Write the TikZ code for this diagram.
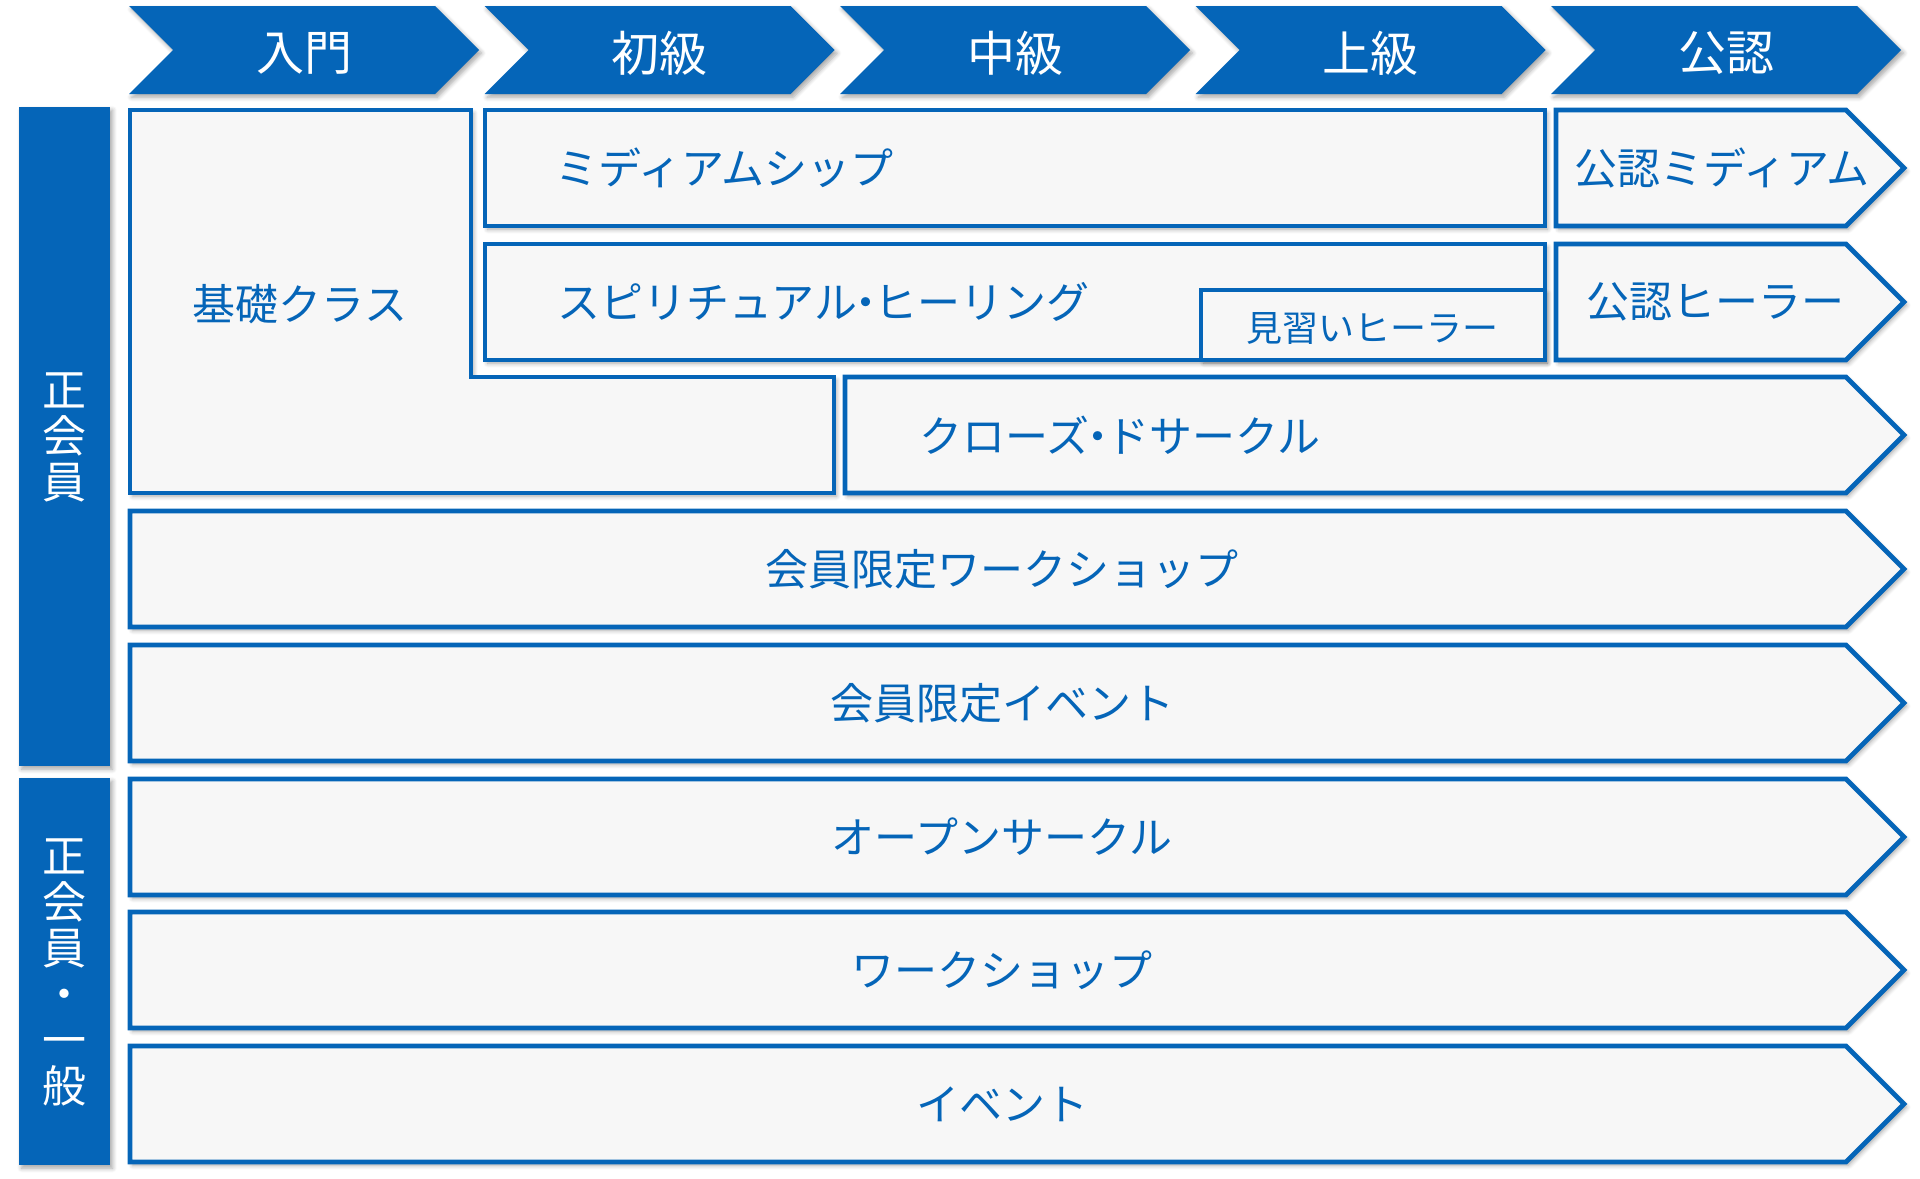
\documentclass[tikz,border=0pt]{standalone}
\usepackage{fontspec}
\setmainfont{Noto Sans CJK JP}
\usetikzlibrary{shadows.blur}

\definecolor{mblue}{RGB}{5,101,184}
\definecolor{mpaper}{RGB}{247,247,247}

% narrow middle dot
\newcommand{\nkdot}{\hspace{-0.3em}・\hspace{-0.3em}}

\tikzset{
  softshadow/.style={blur shadow={shadow xshift=1.3pt, shadow yshift=-1.6pt, shadow blur steps=6, shadow opacity=35}},
  plate/.style={draw=mblue, line width=2.4pt, fill=mpaper, line join=miter, softshadow},
  lab/.style={text=mblue, inner sep=0pt, font=\fontsize{21.5}{24}\selectfont},
  headlab/.style={text=white, inner sep=0pt, font=\fontsize{24}{26}\selectfont},
  sidelab/.style={text=white, inner sep=0pt, align=center, font=\fontsize{22}{23}\selectfont}
}

\begin{document}
\begin{tikzpicture}[x=0.5pt, y=-0.5pt]
    \useasboundingbox (0,0) rectangle (1920,1178);

    % Level chevrons
    \foreach \i/\txt/\nm in {0/入門/lv0, 1/初級/lv1, 2/中級/lv2, 3/上級/lv3, 4/公認/lv4} {
        \pgfmathsetmacro\hx{129+355.5*\i}
        \fill[mblue, softshadow] (\hx,6) -- ++(306,0) -- ++(44,44) -- ++(-44,44) -- ++(-306,0) -- ++(44,-44) -- cycle;
        \node[headlab] (\nm) at (\hx+175,53) {\txt};
    }

    % Member groups
    \fill[mblue, softshadow] (19,107) rectangle (110,766);
    \node[sidelab] (regular) at (64,437) {正\\会\\員};
    \fill[mblue, softshadow] (19,778) rectangle (110,1165);
    \node[sidelab] (general) at (64,972) {正\\会\\員\\・\\一\\般};

    % Basic class (stepped box)
    \draw[plate] (130,110) -- (471,110) -- (471,377) -- (834,377) -- (834,493) -- (130,493) -- cycle;
    \node[lab] (kiso) at (300,304) {基礎クラス};

    % Mediumship / healing courses
    \draw[plate] (485,110) rectangle (1545,226);
    \node[lab, anchor=west] (medium) at (555,168) {ミディアムシップ};
    \draw[plate] (485,244) rectangle (1545,360);
    \node[lab, anchor=west] (healing) at (557,302) {スピリチュアル\nkdot ヒーリング};
    \draw[plate] (1201,290) rectangle (1545,360);
    \node[lab, font=\fontsize{18}{20}\selectfont] (trainee) at (1372,328) {見習いヒーラー};

    % Certification
    \draw[plate] (1556,110) -- (1846,110) -- (1904,168) -- (1846,226) -- (1556,226) -- cycle;
    \node[lab] (certmedium) at (1722,168) {公認ミディアム};
    \draw[plate] (1556,244) -- (1846,244) -- (1904,302) -- (1846,360) -- (1556,360) -- cycle;
    \node[lab] (certhealer) at (1715,302) {公認ヒーラー};

    % Closed circle
    \draw[plate] (845,377) -- (1846,377) -- (1904,435) -- (1846,493) -- (845,493) -- cycle;
    \node[lab] (closed) at (1120,435) {クローズ\nkdot ドサークル};

    % Full-width programmes
    \foreach \t/\txt/\nm in {511/会員限定ワークショップ/memws, 645/会員限定イベント/memev, 779/オープンサークル/open, 912/ワークショップ/ws, 1046/イベント/ev} {
        \draw[plate] (130,\t) -- (1846,\t) -- (1904,\t+58) -- (1846,\t+116) -- (130,\t+116) -- cycle;
        \node[lab] (\nm) at (1002,\t+58) {\txt};
    }
\end{tikzpicture}
\end{document}
